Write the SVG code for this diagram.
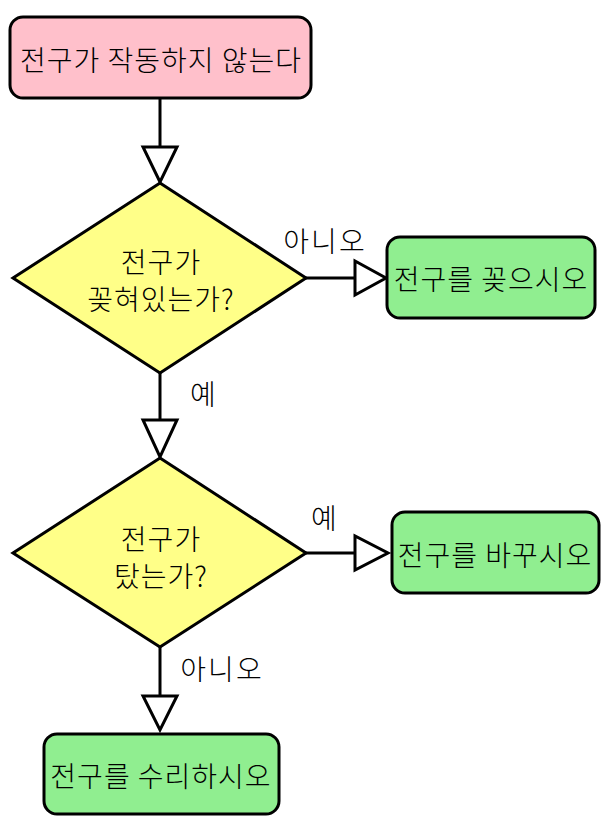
<svg xmlns="http://www.w3.org/2000/svg" width="611" height="834" viewBox="0 0 611 834">
<defs>
<style>
.box{stroke:#000;stroke-width:3;}
.start{fill:#ffc0cb;}
.act{fill:#90ee90;}
.dec{fill:#ffff88;stroke:#000;stroke-width:3;stroke-linejoin:miter;}
.t{font-family:"Noto Sans CJK KR","Noto Sans",sans-serif;font-size:28px;font-weight:300;fill:#000;text-anchor:middle;dominant-baseline:central;letter-spacing:1px;}
.lbl{font-family:"Noto Sans CJK KR","Noto Sans",sans-serif;font-size:28px;font-weight:300;fill:#000;text-anchor:middle;dominant-baseline:central;letter-spacing:2px;}
.ln{stroke:#000;stroke-width:3;fill:none;}
.ah{fill:#fff;stroke:#000;stroke-width:3;stroke-linejoin:miter;}
</style>
</defs>
<rect width="611" height="834" fill="#fff"/>
<g id="connectors">
<line class="ln" x1="160" y1="98" x2="160" y2="147"/>
<polygon class="ah" points="143,147 177,147 160,182"/>
<line class="ln" x1="306" y1="278" x2="355" y2="278"/>
<polygon class="ah" points="355,261 355,295 386,278"/>
<line class="ln" x1="160" y1="373" x2="160" y2="420"/>
<polygon class="ah" points="143,420 177,420 160,457"/>
<line class="ln" x1="306" y1="553" x2="355" y2="553"/>
<polygon class="ah" points="355,536 355,570 388,553"/>
<line class="ln" x1="160" y1="647" x2="160" y2="696"/>
<polygon class="ah" points="143,696 177,696 160,730"/>
<text class="lbl" x="325" y="240">아니오</text>
<text class="lbl" x="204" y="393">예</text>
<text class="lbl" x="325" y="517">예</text>
<text class="lbl" x="222" y="668">아니오</text>
</g>
<g id="start">
<rect class="box start" x="10" y="17" width="301" height="81" rx="13"/>
<text class="t" x="161" y="59">전구가 작동하지 않는다</text>
</g>
<g id="decision1">
<polygon class="dec" points="160,183 306,278 160,373 13,278"/>
<text class="t" x="161" y="261">전구가</text>
<text class="t" x="161" y="298">꽂혀있는가?</text>
</g>
<g id="plugin">
<rect class="box act" x="387" y="237" width="208" height="81" rx="13"/>
<text class="t" x="491" y="278">전구를 꽂으시오</text>
</g>
<g id="decision2">
<polygon class="dec" points="160,458 306,553 160,647 13,553"/>
<text class="t" x="161" y="538">전구가</text>
<text class="t" x="161" y="575">탔는가?</text>
</g>
<g id="replace">
<rect class="box act" x="392" y="512" width="207" height="81" rx="13"/>
<text class="t" x="495" y="554">전구를 바꾸시오</text>
</g>
<g id="repair">
<rect class="box act" x="44" y="734" width="235" height="80" rx="13"/>
<text class="t" x="161" y="775">전구를 수리하시오</text>
</g>
</svg>
